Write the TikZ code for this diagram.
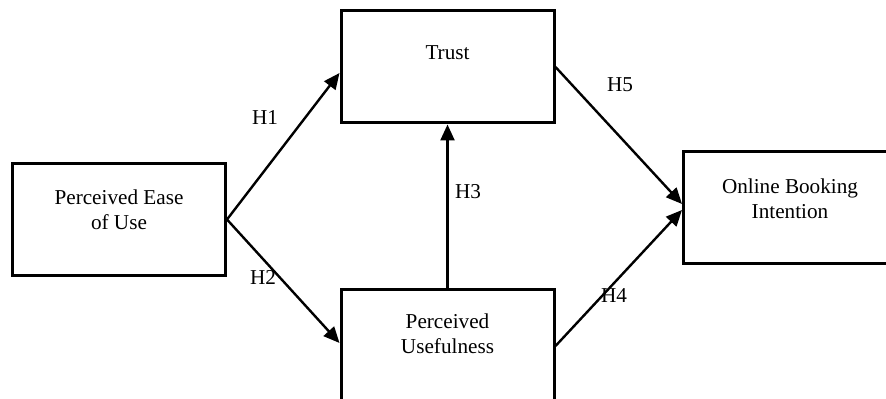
\documentclass[tikz,border=0pt]{standalone}
\usepackage{fontspec}
\setmainfont{Liberation Serif}
\usepackage{tikz}
\usetikzlibrary{arrows.meta,calc}

\tikzset{
    box/.style={draw, line width=1.5pt, minimum width=106.5pt, minimum height=56pt, inner sep=0pt},
    hyp/.style={line width=1.2pt, -{Triangle[length=8pt,width=7pt]}},
    lbl/.style={align=center, font=\fontsize{10.6}{12.5}\selectfont},
}

\begin{document}
\begin{tikzpicture}[x=0.5pt,y=-0.5pt]
    \useasboundingbox (0,0) rectangle (886,399);
    % constructs
    \node[box, label={[lbl, yshift=5pt]center:Perceived Ease\\of Use}] (peu) at (119,219.5) {};
    \node[box, label={[lbl, yshift=7pt]center:Trust}] (trust) at (447.5,67) {};
    \node[box, label={[lbl, yshift=4.3pt]center:Online Booking\\Intention}] (obi) at (790,207.5) {};
    \node[box, label={[lbl, yshift=6pt]center:Perceived\\Usefulness}] (pu) at (447.5,346) {};
    % paths
    \draw[hyp] (peu.east) -- ($(trust.west)+(0,6)$);
    \draw[hyp] (peu.east) -- ($(pu.west)+(0,-3)$);
    \draw[hyp] (pu.north) -- (trust.south);
    \draw[hyp] (trust.east) -- ($(obi.west)+(0,-3.5)$);
    \draw[hyp] (pu.east) -- ($(obi.west)+(0,2.5)$);
    % hypotheses
    \node[lbl] (h1) at (265,118) {H1};
    \node[lbl] (h2) at (263,277) {H2};
    \node[lbl] (h3) at (468,192) {H3};
    \node[lbl] (h4) at (614,296) {H4};
    \node[lbl] (h5) at (620,85) {H5};
\end{tikzpicture}
\end{document}
